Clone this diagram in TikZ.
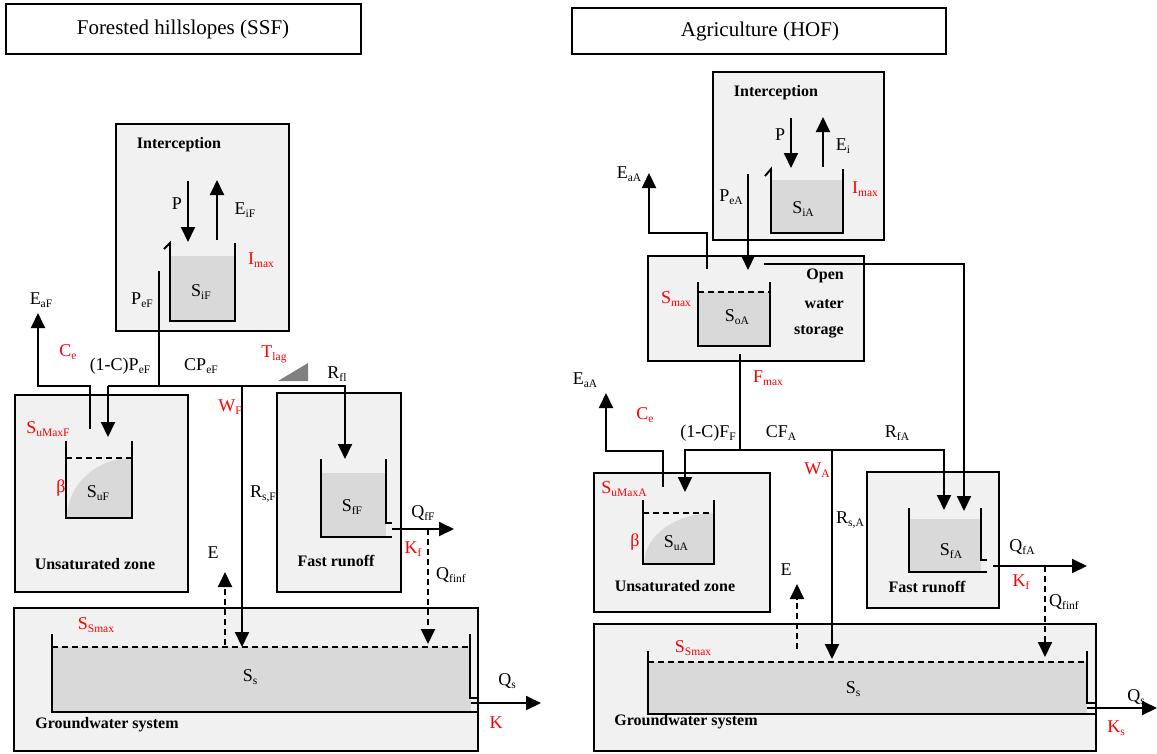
\documentclass[tikz,border=0pt]{standalone}
\usepackage{fontspec}
\setmainfont{Liberation Serif}
\usetikzlibrary{arrows.meta}
\definecolor{boxgray}{gray}{0.945}
\definecolor{watergray}{gray}{0.85}
\definecolor{rampgray}{gray}{0.5}
\newcommand{\sbx}[1]{\raisebox{-0.35ex}{\fontsize{11.5}{12}\selectfont #1}}
\begin{document}
\begin{tikzpicture}[x=1pt,y=-1pt,
  lbl/.style={inner sep=0pt, font=\fontsize{18}{20}\selectfont},
  rlbl/.style={lbl, text=red},
  blbl/.style={inner sep=0pt, font=\fontsize{16}{19}\selectfont\bfseries},
  tlbl/.style={inner sep=0pt, font=\fontsize{21}{24}\selectfont},
  pbox/.style={draw, line width=1.9pt, fill=boxgray},
  tbox/.style={draw, line width=1.9pt},
  wall/.style={line width=1.9pt},
  conn/.style={line width=1.9pt},
  flow/.style={conn, -{Triangle[width=14pt,length=15pt]}},
  dflow/.style={flow, dash pattern=on 6pt off 4pt},
  level/.style={line width=1.9pt, dash pattern=on 6pt off 4pt},
  water/.style={fill=watergray, draw=none}]
\useasboundingbox (0,0) rectangle (1157,753);

% ---------------- titles
\draw[tbox] (6,4) rectangle (361,54);
\node[tlbl] (tL) at (183,29) {Forested hillslopes (SSF)};
\draw[tbox] (572,8) rectangle (946,54);
\node[tlbl] (tR) at (760,31) {Agriculture (HOF)};

% ================= LEFT (forest) =================
\draw[pbox] (116,124) rectangle (289,331);
\draw[pbox] (15,395) rectangle (188,592);
\draw[pbox] (277,393) rectangle (401,592);
\draw[pbox] (14,608) rectangle (478,751);

% interception bucket
\fill[water] (170,256) rectangle (235,321);
\draw[wall] (164,249) -- (170,243) -- (170,321) -- (235,321) -- (235,243);
% unsaturated bucket
\fill[water] (67,518) arc[start angle=180, end angle=270, x radius=65, y radius=60] -- (132,518) -- cycle;
\draw[level] (66,458) -- (132,458);
\draw[wall] (66,441) -- (66,518) -- (132,518) -- (132,441);
% fast runoff bucket
\fill[water] (321,473) rectangle (386,537);
\draw[wall] (321,459) -- (321,537) -- (392,537);
\draw[wall] (386,459) -- (386,523) -- (392,523);
% groundwater bucket
\fill[water] (52,647) rectangle (471,712);
\draw[level] (52,647) -- (470,647);
\draw[wall] (52,634) -- (52,712) -- (478,712);
\draw[wall] (470,634) -- (470,698) -- (478,698);
% ramp (Tlag)
\fill[rampgray] (278,381) -- (308,381) -- (308,363) -- cycle;

% coordinates
\coordinate (lP0) at (188,181);   \coordinate (lP1) at (188,242);
\coordinate (lE0) at (217,240);   \coordinate (lE1) at (217,180);
\coordinate (lPe0) at (159,271);  \coordinate (lPe1) at (159,386);
\coordinate (lEa0) at (90,429);   \coordinate (lEa1) at (90,386);
\coordinate (lEa2) at (38,386);   \coordinate (lEa3) at (38,313);
\coordinate (lH0) at (108,386);   \coordinate (lH1) at (345,386);
\coordinate (lU) at (108,437);    \coordinate (lF) at (345,459);
\coordinate (lW0) at (242,386);   \coordinate (lW1) at (242,647);
\coordinate (lQf0) at (392,529);  \coordinate (lQf1) at (454,529);
\coordinate (lQi0) at (428,529);  \coordinate (lQi1) at (428,644);
\coordinate (lQs0) at (471,703);  \coordinate (lQs1) at (541,703);
\coordinate (lEv0) at (225,645);  \coordinate (lEv1) at (225,572);

\draw[flow] (lP0) -- (lP1);
\draw[flow] (lE0) -- (lE1);
\draw[conn] (lPe0) -- (lPe1);
\draw[flow] (lEa0) -- (lEa1) -- (lEa2) -- (lEa3);
\draw[flow] (lH0) -- (lU);
\draw[flow] (lH0) -- (lH1) -- (lF);
\draw[flow] (lW0) -- (lW1);
\draw[flow] (lQf0) -- (lQf1);
\draw[dflow] (lQi0) -- (lQi1);
\draw[flow] (lQs0) -- (lQs1);
\draw[dflow] (lEv0) -- (lEv1);

% labels
\node[blbl] (lInt) at (179,145) {Interception};
\node[lbl] (lPl) at (177,204) {P};
\node[lbl] (lEil) at (245,210) {E\sbx{iF}};
\node[lbl] (lSi) at (201,292) {S\sbx{iF}};
\node[rlbl] (lImax) at (261,260) {I\sbx{max}};
\node[lbl] (lPel) at (142,300) {P\sbx{eF}};
\node[lbl] (lEal) at (41,300) {E\sbx{aF}};
\node[rlbl] (lCe) at (68,352) {C\sbx{e}};
\node[lbl] (l1C) at (120,366) {(1-C)P\sbx{eF}};
\node[lbl] (lCP) at (201,366) {CP\sbx{eF}};
\node[rlbl] (lTlag) at (274,354) {T\sbx{lag}};
\node[lbl] (lRfl) at (337,374) {R\sbx{fl}};
\node[rlbl] (lWF) at (230,407) {W\sbx{F}};
\node[lbl] (lRs) at (263,494) {R\sbx{s,F}};
\node[rlbl] (lSuMax) at (48,429) {S\sbx{uMaxF}};
\node[rlbl] (lbeta) at (61,488) {β};
\node[lbl] (lSu) at (98,493) {S\sbx{uF}};
\node[blbl] (lUz) at (95,564) {Unsaturated zone};
\node[lbl] (lSf) at (352,507) {S\sbx{fF}};
\node[blbl] (lFr) at (336,561) {Fast runoff};
\node[lbl] (lQfl) at (423,513) {Q\sbx{fF}};
\node[rlbl] (lKf) at (413,549) {K\sbx{f}};
\node[lbl] (lQil) at (451,575) {Q\sbx{finf}};
\node[lbl] (lEl) at (213,553) {E};
\node[rlbl] (lSSmax) at (96,625) {S\sbx{Smax}};
\node[lbl] (lSs) at (250,677) {S\sbx{s}};
\node[lbl] (lQsl) at (507,681) {Q\sbx{s}};
\node[rlbl] (lK) at (496,723) {K};
\node[blbl] (lGw) at (107,725) {Groundwater system};

% ================= RIGHT (agriculture) =================
\draw[pbox] (713,72) rectangle (884,240);
\draw[pbox] (648,256) rectangle (864,361);
\draw[pbox] (594,473) rectangle (770,612);
\draw[pbox] (867,472) rectangle (999,608);
\draw[pbox] (594,624) rectangle (1096,751);

% interception bucket
\fill[water] (771,180) rectangle (843,233);
\draw[wall] (765,176) -- (771,169) -- (771,233) -- (843,233) -- (843,169);
% open water bucket
\fill[water] (698,292) rectangle (770,346);
\draw[level] (698,292) -- (770,292);
\draw[wall] (698,282) -- (698,346) -- (770,346) -- (770,282);
% unsaturated bucket
\fill[water] (644,564) arc[start angle=180, end angle=270, x radius=70, y radius=51] -- (714,564) -- cycle;
\draw[level] (643,513) -- (714,513);
\draw[wall] (643,500) -- (643,564) -- (714,564) -- (714,500);
% fast runoff bucket
\fill[water] (909,519) rectangle (981,572);
\draw[wall] (909,508) -- (909,572) -- (987,572);
\draw[wall] (981,508) -- (981,560) -- (987,560);
% groundwater bucket
\fill[water] (648,662) rectangle (1087,714);
\draw[level] (648,662) -- (1087,662);
\draw[wall] (648,651) -- (648,714) -- (1096,714);
\draw[wall] (1087,651) -- (1087,703) -- (1096,703);

% coordinates
\coordinate (rP0) at (791,118);   \coordinate (rP1) at (791,168);
\coordinate (rE0) at (823,167);   \coordinate (rE1) at (823,117);
\coordinate (rPe0) at (748,174);  \coordinate (rPe1) at (748,270);
\coordinate (rEa0) at (707,269);  \coordinate (rEa1) at (707,233);
\coordinate (rEa2) at (649,233);  \coordinate (rEa3) at (649,173);
\coordinate (rO0) at (764,264);   \coordinate (rO1) at (964,264);
\coordinate (rO2) at (964,511);
\coordinate (rF0) at (740,354);   \coordinate (rF1) at (740,450);
\coordinate (rH0) at (685,450);   \coordinate (rH1) at (944,450);
\coordinate (rU) at (685,492);    \coordinate (rFa) at (944,510);
\coordinate (rW0) at (832,450);   \coordinate (rW1) at (832,659);
\coordinate (rEb0) at (663,487);  \coordinate (rEb1) at (663,451);
\coordinate (rEb2) at (606,451);  \coordinate (rEb3) at (606,393);
\coordinate (rQf0) at (993,566);  \coordinate (rQf1) at (1087,566);
\coordinate (rQi0) at (1045,566); \coordinate (rQi1) at (1045,657);
\coordinate (rQs0) at (1087,708); \coordinate (rQs1) at (1157,708);
\coordinate (rEv0) at (797,649);  \coordinate (rEv1) at (797,584);

\draw[flow] (rP0) -- (rP1);
\draw[flow] (rE0) -- (rE1);
\draw[flow] (rPe0) -- (rPe1);
\draw[flow] (rEa0) -- (rEa1) -- (rEa2) -- (rEa3);
\draw[flow] (rO0) -- (rO1) -- (rO2);
\draw[conn] (rF0) -- (rF1);
\draw[flow] (rF1) -- (rH0) -- (rU);
\draw[flow] (rF1) -- (rH1) -- (rFa);
\draw[flow] (rW0) -- (rW1);
\draw[flow] (rEb0) -- (rEb1) -- (rEb2) -- (rEb3);
\draw[flow] (rQf0) -- (rQf1);
\draw[dflow] (rQi0) -- (rQi1);
\draw[flow] (rQs0) -- (rQs1);
\draw[dflow] (rEv0) -- (rEv1);

% labels
\node[blbl] (rInt) at (776,93) {Interception};
\node[lbl] (rPl) at (780,135) {P};
\node[lbl] (rEil) at (843,146) {E\sbx{i}};
\node[lbl] (rSi) at (803,209) {S\sbx{iA}};
\node[rlbl] (rImax) at (865,189) {I\sbx{max}};
\node[lbl] (rPel) at (731,197) {P\sbx{eA}};
\node[lbl] (rEal) at (629,174) {E\sbx{aA}};
\node[rlbl] (rSmax) at (676,299) {S\sbx{max}};
\node[lbl] (rSo) at (737,317) {S\sbx{oA}};
\node[blbl, anchor=east] (rOpen) at (844,276) {Open};
\node[blbl, anchor=east] (rWater) at (844,304) {water};
\node[blbl, anchor=east] (rStor) at (844,332) {storage};
\node[rlbl] (rFmax) at (768,378) {F\sbx{max}};
\node[lbl] (rEbl) at (585,380) {E\sbx{aA}};
\node[rlbl] (rCe) at (645,415) {C\sbx{e}};
\node[lbl] (r1C) at (708,433) {(1-C)F\sbx{F}};
\node[lbl] (rCF) at (781,433) {CF\sbx{A}};
\node[lbl] (rRf) at (897,433) {R\sbx{fA}};
\node[rlbl] (rWA) at (817,470) {W\sbx{A}};
\node[lbl] (rRs) at (850,520) {R\sbx{s,A}};
\node[rlbl] (rSuMax) at (624,489) {S\sbx{uMaxA}};
\node[rlbl] (rbeta) at (635,542) {β};
\node[lbl] (rSu) at (676,543) {S\sbx{uA}};
\node[blbl] (rUz) at (675,586) {Unsaturated zone};
\node[lbl] (rSf) at (951,551) {S\sbx{fA}};
\node[blbl] (rFr) at (927,587) {Fast runoff};
\node[lbl] (rQfl) at (1022,547) {Q\sbx{fA}};
\node[rlbl] (rKf) at (1021,582) {K\sbx{f}};
\node[lbl] (rQil) at (1064,602) {Q\sbx{finf}};
\node[lbl] (rEl) at (786,570) {E};
\node[rlbl] (rSSmax) at (693,648) {S\sbx{Smax}};
\node[lbl] (rSs) at (853,689) {S\sbx{s}};
\node[lbl] (rQsl) at (1136,697) {Q\sbx{s}};
\node[rlbl] (rKs) at (1116,728) {K\sbx{s}};
\node[blbl] (rGw) at (686,722) {Groundwater system};
\end{tikzpicture}
\end{document}
